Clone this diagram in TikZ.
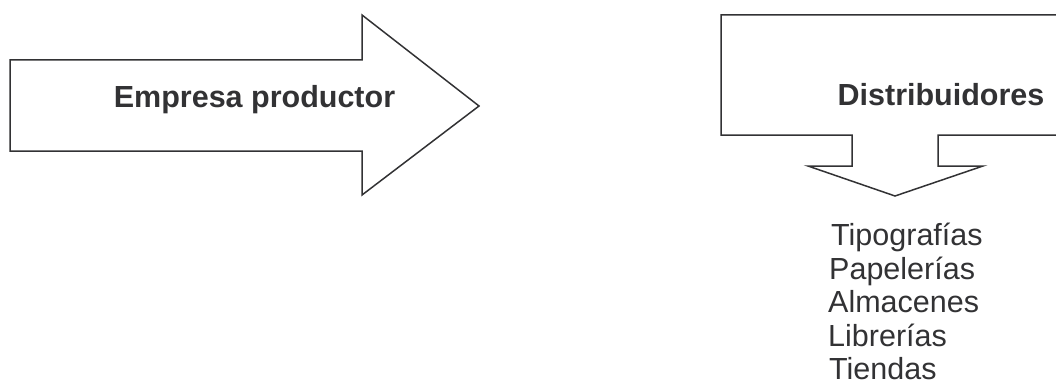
\documentclass[tikz,border=0pt]{standalone}
\usepackage{fontspec}
\setmainfont{Liberation Sans}
\usepackage{tikz}
\usetikzlibrary{positioning,calc}
\definecolor{InkGray}{RGB}{50,50,52}
\tikzset{
  outline/.style={draw=InkGray,line width=1.5pt,line join=miter},
  bigtitle/.style={text=InkGray,font=\fontsize{30.5}{36}\selectfont\bfseries,inner sep=0pt,anchor=base},
  listitem/.style={text=InkGray,font=\fontsize{30.5}{36}\selectfont,inner sep=0pt,anchor=base west},
}

\begin{document}
\begin{tikzpicture}[x=1pt,y=-1pt]
  \clip (0,0) rectangle (1056,385);
  \useasboundingbox (0,0) rectangle (1056,385);

  % block arrow, producer
  \draw[outline] (10,60) -- (362,60) -- (362,15) -- (479,106) -- (362,195)
    -- (362,151) -- (10,151) -- cycle;
  \node[bigtitle] (prod) at (254.5,108) {Empresa productor};

  % down arrow callout, distributors
  \draw[outline] (721,15) -- (1070,15) -- (1070,135) -- (938,135) -- (938,166)
    -- (983,166) -- (895,196) -- (808,166) -- (852,166) -- (852,135)
    -- (721,135) -- cycle;
  \node[bigtitle] (dist) at (941,106) {Distribuidores};

  \foreach \i/\x/\txt in {0/831/Tipografías,1/829/Papelerías,2/828/Almacenes,
                          3/828/Librerías,4/829/Tiendas}
    \node[listitem] (item\i) at (\x,245.5+33.6*\i) {\txt};
\end{tikzpicture}
\end{document}
